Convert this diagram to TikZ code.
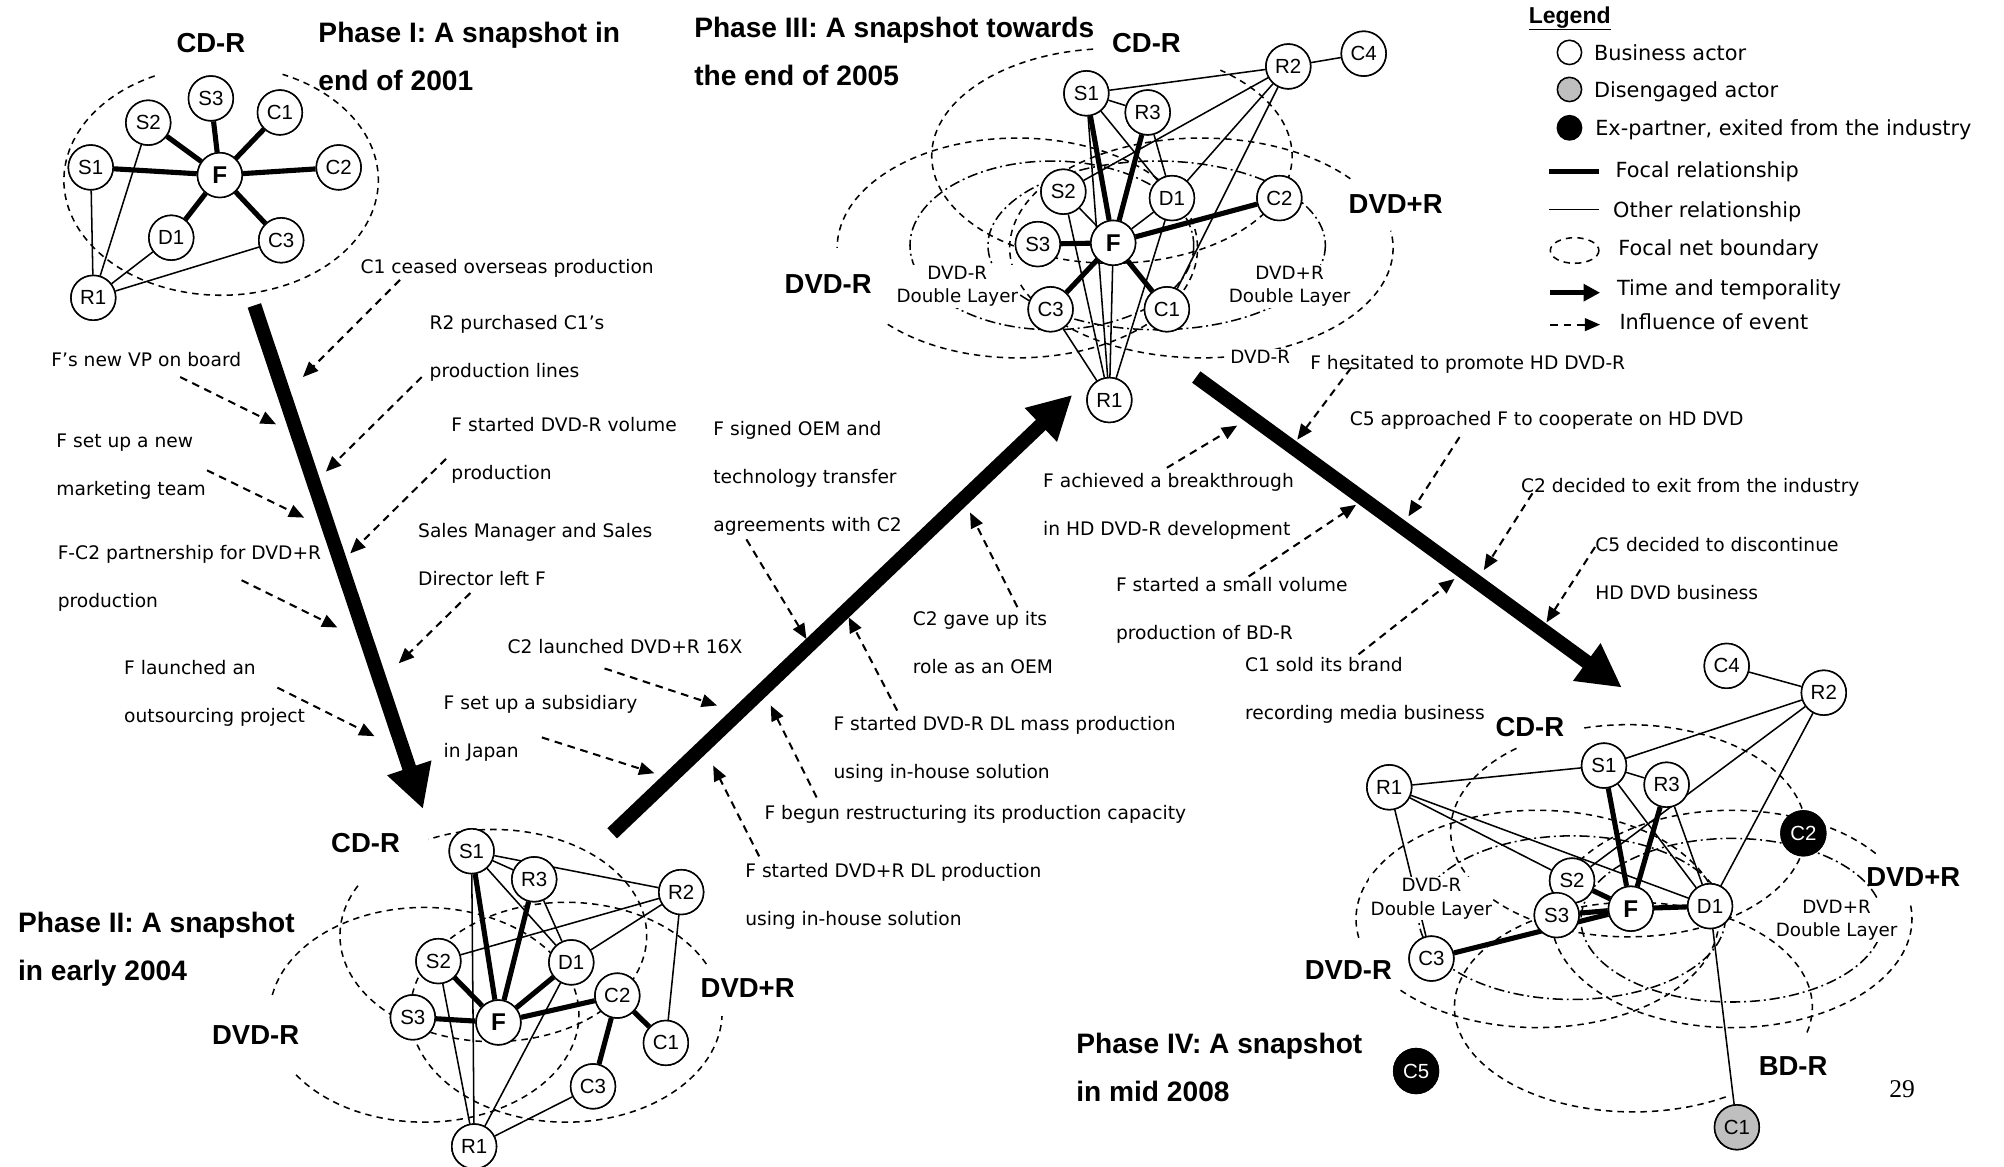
\documentclass[tikz,border=0pt]{standalone}
\usepackage{fontspec}
\setmainfont{DejaVu Sans}
\newfontfamily\arialf{Liberation Sans}
\newfontfamily\timesf{Liberation Serif}
\usetikzlibrary{arrows.meta}
\newcommand{\bndarc}[7]{\draw[#1] ({#2+#4*cos(#6)},{#3-#5*sin(#6)}) arc[start angle={-(#6)}, end angle={-(#7)}, x radius=#4, y radius=#5];}
\tikzset{
 actor/.style={circle, draw, line width=1.2pt, fill=white, minimum size=35pt, inner sep=0pt, font=\arialf\fontsize{16}{16}\selectfont},
 focal/.style={actor, font=\arialf\bfseries\fontsize{19}{19}\selectfont},
 exactor/.style={actor, fill=black, text=white},
 disactor/.style={actor, fill=black!25},
 frel/.style={line width=4pt},
 orel/.style={line width=1.2pt},
 bound/.style={line width=1.2pt, dash pattern=on 5pt off 4pt},
 dlbound/.style={line width=1.2pt, dash pattern=on 8pt off 3pt on 1.5pt off 3pt},
 infl/.style={line width=1.6pt, dash pattern=on 6pt off 4.5pt, -{Triangle[length=12pt,width=10pt]}},
 timearr/.style={line width=11pt, -{Triangle[length=34pt,width=34pt]}},
 evtext/.style={anchor=base west, align=left, inner sep=0pt, font=\fontsize{14.6}{37.5}\selectfont},
 headtext/.style={anchor=base west, align=left, inner sep=0pt, font=\arialf\bfseries\fontsize{22}{37.5}\selectfont},
 netlabel/.style={inner sep=0pt, font=\arialf\bfseries\fontsize{21.5}{21.5}\selectfont},
 dllabel/.style={align=center, fill=white, inner sep=1pt, font=\fontsize{14.3}{18.5}\selectfont},
 legtext/.style={anchor=base west, inner sep=0pt, font=\fontsize{16.3}{16.3}\selectfont},
}
\begin{document}
\begin{tikzpicture}[x=1pt,y=-1pt]
\useasboundingbox (0,0) rectangle (1568,913);
\fill[white] (0,0) rectangle (1568,913);

% ================= boundaries =================
% Phase I
\bndarc{bound}{173}{141}{123}{90}{115}{427}
% Phase II
\bndarc{bound}{386}{732}{120}{83}{152}{475}
\bndarc{bound}{332}{794}{121}{84}{214}{532}
\bndarc{bound}{443}{792}{122}{86}{26}{358}
% Phase III
\bndarc{bound}{870}{122}{141}{84}{96}{413}
\bndarc{bound}{796}{194}{141}{86}{224}{540}
\bndarc{bound}{940}{194}{150}{86}{39}{369}
\draw[dlbound] (823,192) ellipse [x radius=111, y radius=66];
\draw[dlbound] (905,192) ellipse [x radius=132, y radius=66];
% Phase IV
\bndarc{bound}{1274}{650}{139}{83}{129}{465}
\bndarc{bound}{1203}{719}{142}{85}{221}{550}
\bndarc{bound}{1355}{719}{141}{85}{37}{368}
\bndarc{bound}{1278}{788}{140}{82}{-14}{302}
\draw[dlbound] (1230,718) ellipse [x radius=120, y radius=64];
\draw[dlbound] (1355,720) ellipse [x radius=118, y radius=64];

% ================= nodes =================
% Phase I
\node[actor] (p1S3) at (165,77) {S3};
\node[actor] (p1S2) at (116,96) {S2};
\node[actor] (p1C1) at (219,88) {C1};
\node[actor] (p1S1) at (71,131) {S1};
\node[focal] (p1F) at (172,137) {F};
\node[actor] (p1C2) at (265,131) {C2};
\node[actor] (p1D1) at (134,186) {D1};
\node[actor] (p1C3) at (220,188) {C3};
\node[actor] (p1R1) at (73,233) {R1};
% Phase II
\node[actor] (p2S1) at (369,666) {S1};
\node[actor] (p2R3) at (418,688) {R3};
\node[actor] (p2R2) at (533,698) {R2};
\node[actor] (p2S2) at (343,752) {S2};
\node[actor] (p2D1) at (447,753) {D1};
\node[actor] (p2S3) at (323,796) {S3};
\node[focal] (p2F) at (390,800) {F};
\node[actor] (p2C2) at (483,779) {C2};
\node[actor] (p2C1) at (521,816) {C1};
\node[actor] (p2C3) at (464,850) {C3};
\node[actor] (p2R1) at (371,897) {R1};
% Phase III
\node[actor] (p3S1) at (850,73) {S1};
\node[actor] (p3R2) at (1008,52) {R2};
\node[actor] (p3C4) at (1067,42) {C4};
\node[actor] (p3R3) at (898,88) {R3};
\node[actor] (p3S2) at (832,150) {S2};
\node[actor] (p3D1) at (917,155) {D1};
\node[actor] (p3C2) at (1001,155) {C2};
\node[actor] (p3S3) at (812,191) {S3};
\node[focal] (p3F) at (871,190) {F};
\node[actor] (p3C3) at (822,242) {C3};
\node[actor] (p3C1) at (913,242) {C1};
\node[actor] (p3R1) at (868,313) {R1};
% Phase IV
\node[actor] (p4C4) at (1351,521) {C4};
\node[actor] (p4R2) at (1427,542) {R2};
\node[actor] (p4R1) at (1087,616) {R1};
\node[actor] (p4S1) at (1255,599) {S1};
\node[actor] (p4R3) at (1304,614) {R3};
\node[exactor] (p4C2) at (1411,652) {C2};
\node[actor] (p4S2) at (1230,689) {S2};
\node[actor] (p4S3) at (1218,716) {S3};
\node[focal] (p4F) at (1276,711) {F};
\node[actor] (p4D1) at (1338,709) {D1};
\node[actor] (p4C3) at (1120,750) {C3};
\node[exactor] (p4C5) at (1108,838) {C5};
\node[disactor] (p4C1) at (1359,882) {C1};

% ================= edges =================
% Phase I
\foreach \n in {S1,S2,S3,C1,C2,C3,D1} \draw[frel] (p1F) -- (p1\n);
\foreach \n in {S1,S2,D1,C3} \draw[orel] (p1R1) -- (p1\n);
% Phase II
\foreach \n in {S1,R3,S2,S3,D1,C2} \draw[frel] (p2F) -- (p2\n);
\draw[frel] (p2C2) -- (p2C1);
\draw[frel] (p2C2) -- (p2C3);
\draw[orel] (p2S1) -- (p2R3);
\draw[orel] (p2S1) -- (p2R2);
\draw[orel] (p2S1) -- (p2D1);
\draw[orel] (p2S1) -- (p2R1);
\draw[orel] (p2R3) -- (p2D1);
\draw[orel] (p2R2) -- (p2S2);
\draw[orel] (p2R2) -- (p2D1);
\draw[orel] (p2R2) -- (p2C1);
\draw[orel] (p2S2) -- (p2R1);
\draw[orel] (p2D1) -- (p2R1);
\draw[orel] (p2C3) -- (p2R1);
% Phase III
\foreach \n in {S1,R3,S3,C2,C3,C1} \draw[frel] (p3F) -- (p3\n);
\foreach \n in {S2,D1,R1} \draw[orel] (p3F) -- (p3\n);
\draw[orel] (p3S1) -- (p3R3);
\draw[orel] (p3S1) -- (p3R2);
\draw[orel] (p3S1) -- (p3D1);
\draw[orel] (p3S1) -- (p3R1);
\draw[orel] (p3S2) -- (p3R2);
\draw[orel] (p3S2) -- (p3R1);
\draw[orel] (p3R3) -- (p3D1);
\draw[orel] (p3D1) -- (p3R2);
\draw[orel] (p3D1) -- (p3R1);
\draw[orel] (p3R2) -- (p3C1);
\draw[orel] (p3R2) -- (p3C4);
\draw[orel] (p3C3) -- (p3R1);
% Phase IV
\foreach \n in {S1,R3,S2,S3,D1,C3} \draw[frel] (p4F) -- (p4\n);
\draw[orel] (p4C4) -- (p4R2);
\draw[orel] (p4R2) -- (p4S1);
\draw[orel] (p4R2) -- (p4S2);
\draw[orel] (p4R2) -- (p4D1);
\draw[orel] (p4R1) -- (p4S1);
\draw[orel] (p4R1) -- (p4S2);
\draw[orel] (p4R1) -- (p4D1);
\draw[orel] (p4R1) -- (p4C3);
\draw[orel] (p4S1) -- (p4R3);
\draw[orel] (p4S1) -- (p4D1);
\draw[orel] (p4R3) -- (p4D1);
\draw[orel] (p4D1) -- (p4C1);

% redraw nodes on top of edges
\foreach \n/\x/\y in {S3/165/77,S2/116/96,C1/219/88,S1/71/131,C2/265/131,D1/134/186,C3/220/188,R1/73/233}
  \node[actor] at (\x,\y) {\n};
\node[focal] at (172,137) {F};
\foreach \n/\x/\y in {S1/369/666,R3/418/688,R2/533/698,S2/343/752,D1/447/753,S3/323/796,C2/483/779,C1/521/816,C3/464/850,R1/371/897}
  \node[actor] at (\x,\y) {\n};
\node[focal] at (390,800) {F};
\foreach \n/\x/\y in {S1/850/73,R2/1008/52,C4/1067/42,R3/898/88,S2/832/150,D1/917/155,C2/1001/155,S3/812/191,C3/822/242,C1/913/242,R1/868/313}
  \node[actor] at (\x,\y) {\n};
\node[focal] at (871,190) {F};
\foreach \n/\x/\y in {C4/1351/521,R2/1427/542,R1/1087/616,S1/1255/599,R3/1304/614,S2/1230/689,S3/1218/716,D1/1338/709,C3/1120/750}
  \node[actor] at (\x,\y) {\n};
\node[exactor] at (1411,652) {C2};
\node[exactor] at (1108,838) {C5};
\node[disactor] at (1359,882) {C1};
\node[focal] at (1276,711) {F};

% ================= net labels =================
\node[netlabel] (l1) at (165,34) {CD-R};
\node[netlabel] (l2a) at (286,660) {CD-R};
\node[netlabel] (l2b) at (200,810) {DVD-R};
\node[netlabel] (l2c) at (585,773) {DVD+R};
\node[netlabel] (l3a) at (897,34) {CD-R};
\node[netlabel] (l3b) at (1092,160) {DVD+R};
\node[netlabel] (l3c) at (648,222) {DVD-R};
\node[netlabel] (l4a) at (1197,569) {CD-R};
\node[netlabel] (l4b) at (1497,686) {DVD+R};
\node[netlabel] (l4c) at (1055,759) {DVD-R};
\node[netlabel] (l4d) at (1403,834) {BD-R};
\node[dllabel] (dl3a) at (749,224) {DVD-R\\Double Layer};
\node[dllabel] (dl3b) at (1009,224) {DVD+R\\Double Layer};
\node[dllabel] (dl3c) at (986,279) {DVD-R};
\node[dllabel] (dl4a) at (1120,703) {DVD-R\\Double Layer};
\node[dllabel] (dl4b) at (1437,720) {DVD+R\\Double Layer};

% ================= headings =================
\node[headtext] (h1) at (249,71) {Phase I: A snapshot in\\end of 2001};
\node[headtext] (h2) at (14,767) {Phase II: A snapshot\\in early 2004};
\node[headtext] (h3) at (543,67) {Phase III: A snapshot towards\\the end of 2005};
\node[headtext] (h4) at (842,862) {Phase IV: A snapshot\\in mid 2008};
\node[anchor=base west, inner sep=0pt, font=\timesf\fontsize{20}{20}\selectfont] (pg) at (1478,859) {29};

% ================= time arrows =================
\coordinate (t1s) at (199,239); \coordinate (t1e) at (331,633);
\coordinate (t2s) at (479,652); \coordinate (t2e) at (839,309);
\coordinate (t3s) at (936,295); \coordinate (t3e) at (1269,538);
\draw[timearr] (t1s) -- (t1e);
\draw[timearr] (t2s) -- (t2e);
\draw[timearr] (t3s) -- (t3e);

% ================= events =================
\node[evtext] (e1) at (282,214) {C1 ceased overseas production};
\node[evtext] (e2) at (336,295) {R2 purchased C1’s\\production lines};
\node[evtext] (e3) at (40,287) {F’s new VP on board};
\node[evtext] (e4) at (44,388) {F set up a new\\marketing team};
\node[evtext] (e5) at (353,375) {F started DVD-R volume\\production};
\node[evtext] (e6) at (45,475) {F-C2 partnership for DVD+R\\production};
\node[evtext] (e7) at (327,458) {Sales Manager and Sales\\Director left F};
\node[evtext] (e8) at (97,565) {F launched an\\outsourcing project};
\node[evtext] (e9) at (397,511) {C2 launched DVD+R 16X};
\node[evtext] (e10) at (347,593) {F set up a subsidiary\\in Japan};
\node[evtext] (e11) at (558,416) {F signed OEM and\\technology transfer\\agreements with C2};
\node[evtext] (e12) at (714,527) {C2 gave up its\\role as an OEM};
\node[evtext] (e13) at (652,609) {F started DVD-R DL mass production\\using in-house solution};
\node[evtext] (e14) at (598,641) {F begun restructuring its production capacity};
\node[evtext] (e15) at (583,724) {F started DVD+R DL production\\using in-house solution};
\node[evtext] (e16) at (1025,289) {F hesitated to promote HD DVD-R};
\node[evtext] (e17) at (1056,333) {C5 approached F to cooperate on HD DVD};
\node[evtext] (e18) at (816,419) {F achieved a breakthrough\\in HD DVD-R development};
\node[evtext] (e19) at (1190,385) {C2 decided to exit from the industry};
\node[evtext] (e20) at (1248,469) {C5 decided to discontinue\\HD DVD business};
\node[evtext] (e21) at (873,500) {F started a small volume\\production of BD-R};
\node[evtext] (e22) at (974,563) {C1 sold its brand\\recording media business};

% influence arrows
\foreach \i/\sx/\sy/\tx/\ty in {
 1/313/219/237/295, 2/330/295/255/369, 3/141/295/216/332, 4/162/368/238/405,
 5/349/359/274/433, 6/189/454/264/491, 7/368/464/312/519, 8/217/538/293/576,
 9/473/523/561/552, 10/424/577/512/605, 11/584/422/631/500, 12/796/475/759/401,
 13/702/556/664/483, 14/639/624/603/552, 15/594/670/558/599, 16/913/366/968/333,
 17/1057/288/1015/344, 18/1142/342/1102/404, 19/1199/386/1161/446, 20/1248/428/1210/487,
 21/977/451/1061/395, 22/1063/512/1138/453}
 { \coordinate (is\i) at (\sx,\sy); \coordinate (it\i) at (\tx,\ty);
   \draw[infl] (is\i) -- (it\i); }

% ================= legend =================
\node[anchor=base west, inner sep=0pt, font=\arialf\bfseries\fontsize{18}{18}\selectfont] (legT) at (1196,18) {\underline{Legend}};
\node[actor, minimum size=19pt] (lg1) at (1228,41) {};
\node[disactor, minimum size=19pt] (lg2) at (1228,70) {};
\node[exactor, minimum size=19pt] (lg3) at (1228,100) {};
\node[legtext] (lt1) at (1247,47) {Business actor};
\node[legtext] (lt2) at (1247,76) {Disengaged actor};
\node[legtext] (lt3) at (1248,106) {Ex-partner, exited from the industry};
\coordinate (lf1) at (1212,134); \coordinate (lf2) at (1251,134);
\draw[frel] (lf1) -- (lf2);
\node[legtext] (lt4) at (1264,139) {Focal relationship};
\coordinate (lo1) at (1212,164); \coordinate (lo2) at (1251,164);
\draw[orel] (lo1) -- (lo2);
\node[legtext] (lt5) at (1262,170) {Other relationship};
\coordinate (lb) at (1232,196);
\draw[bound] (lb) ellipse [x radius=19, y radius=10];
\node[legtext] (lt6) at (1266,200) {Focal net boundary};
\coordinate (la1) at (1213,229); \coordinate (la2) at (1252,229);
\draw[line width=3.5pt, -{Triangle[length=13pt,width=13pt]}] (la1) -- (la2);
\node[legtext] (lt7) at (1265,231) {Time and temporality};
\coordinate (li1) at (1213,254); \coordinate (li2) at (1252,254);
\draw[infl] (li1) -- (li2);
\node[legtext] (lt8) at (1267,258) {Influence of event};
\end{tikzpicture}
\end{document}
